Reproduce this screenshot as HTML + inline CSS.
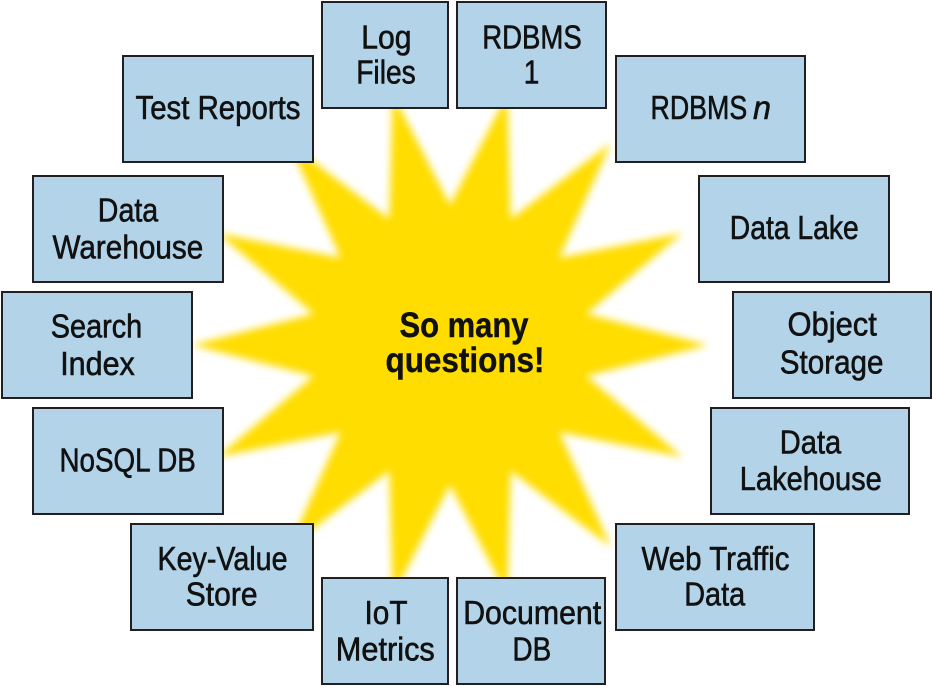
<!DOCTYPE html>
<html>
<head>
<meta charset="utf-8">
<style>
  html,body{margin:0;padding:0;background:#fff;}
  svg{display:block;}
  .t{font-family:"Liberation Sans",sans-serif;font-size:33px;fill:#111;stroke:#111;stroke-width:0.6;}
  .b{font-family:"Liberation Sans",sans-serif;font-size:35px;font-weight:bold;fill:#111;stroke:#111;stroke-width:0.4;}
  rect.box{fill:#b3d3e9;stroke:#231f20;stroke-width:2;}
</style>
</head>
<body>
<svg width="933" height="687" viewBox="0 0 933 687" xmlns="http://www.w3.org/2000/svg">
  <defs>
    <filter id="soft" filterUnits="userSpaceOnUse" x="0" y="0" width="933" height="687">
      <feGaussianBlur stdDeviation="4"/>
    </filter>
  </defs>
  <rect x="0" y="0" width="933" height="687" fill="#fff"/>
  <polygon id="star" fill="#ffdd00" filter="url(#soft)" points=""/>

  <!-- boxes -->
  <rect class="box" x="322" y="2" width="126" height="106"/>
  <rect class="box" x="457" y="2" width="149" height="106"/>
  <rect class="box" x="123" y="56" width="190" height="106"/>
  <rect class="box" x="616" y="56" width="189" height="106"/>
  <rect class="box" x="33" y="176" width="190" height="106"/>
  <rect class="box" x="699" y="176" width="190" height="106"/>
  <rect class="box" x="2" y="292" width="190" height="106"/>
  <rect class="box" x="733" y="292" width="198" height="106"/>
  <rect class="box" x="33" y="408" width="190" height="106"/>
  <rect class="box" x="711" y="408" width="198" height="106"/>
  <rect class="box" x="131" y="524" width="182" height="106"/>
  <rect class="box" x="616" y="524" width="198" height="106"/>
  <rect class="box" x="322" y="578" width="126" height="106"/>
  <rect class="box" x="457" y="578" width="148" height="106"/>

  <!-- labels -->
  <text class="t" x="361.2" y="48.3" textLength="50.3" lengthAdjust="spacingAndGlyphs">Log</text>
  <text class="t" x="356.2" y="83.3" textLength="59.6" lengthAdjust="spacingAndGlyphs">Files</text>

  <text class="t" x="482.2" y="48.3" textLength="99.6" lengthAdjust="spacingAndGlyphs">RDBMS</text>
  <text class="t" x="531.5" y="83.3" text-anchor="middle" transform="translate(531.5,0) scale(0.85,1) translate(-531.5,0)">1</text>

  <text class="t" x="135.5" y="119" textLength="165" lengthAdjust="spacingAndGlyphs">Test Reports</text>

  <text class="t" x="650.5" y="119" textLength="96.7" lengthAdjust="spacingAndGlyphs">RDBMS</text>
  <text class="t" x="753" y="119" font-style="italic" textLength="18" lengthAdjust="spacingAndGlyphs">n</text>

  <text class="t" x="97.8" y="221.7" textLength="60.4" lengthAdjust="spacingAndGlyphs">Data</text>
  <text class="t" x="52.5" y="258.3" textLength="150.7" lengthAdjust="spacingAndGlyphs">Warehouse</text>

  <text class="t" x="729.8" y="239" textLength="129" lengthAdjust="spacingAndGlyphs">Data Lake</text>

  <text class="t" x="50.8" y="337.7" textLength="91.4" lengthAdjust="spacingAndGlyphs">Search</text>
  <text class="t" x="60.2" y="375" textLength="74.6" lengthAdjust="spacingAndGlyphs">Index</text>

  <text class="t" x="787.5" y="335.5" textLength="89.3" lengthAdjust="spacingAndGlyphs">Object</text>
  <text class="t" x="779.8" y="373.3" textLength="103.7" lengthAdjust="spacingAndGlyphs">Storage</text>

  <text class="t" x="59.5" y="471.7" textLength="136.3" lengthAdjust="spacingAndGlyphs">NoSQL DB</text>

  <text class="t" x="779.8" y="453.3" textLength="61.4" lengthAdjust="spacingAndGlyphs">Data</text>
  <text class="t" x="739.8" y="490" textLength="142" lengthAdjust="spacingAndGlyphs">Lakehouse</text>

  <text class="t" x="157.5" y="570" textLength="130" lengthAdjust="spacingAndGlyphs">Key-Value</text>
  <text class="t" x="185.8" y="605.7" textLength="71.7" lengthAdjust="spacingAndGlyphs">Store</text>

  <text class="t" x="641.5" y="570" textLength="148" lengthAdjust="spacingAndGlyphs">Web Traffic</text>
  <text class="t" x="684.2" y="605.7" textLength="61" lengthAdjust="spacingAndGlyphs">Data</text>

  <text class="t" x="364.5" y="624" textLength="43" lengthAdjust="spacingAndGlyphs">IoT</text>
  <text class="t" x="335.8" y="660.7" textLength="99" lengthAdjust="spacingAndGlyphs">Metrics</text>

  <text class="t" x="463.2" y="624" textLength="138" lengthAdjust="spacingAndGlyphs">Document</text>
  <text class="t" x="512.5" y="660.7" textLength="38.7" lengthAdjust="spacingAndGlyphs">DB</text>

  <text class="b" x="399.5" y="337" textLength="129" lengthAdjust="spacingAndGlyphs">So many</text>
  <text class="b" x="385.5" y="372" textLength="159" lengthAdjust="spacingAndGlyphs">questions!</text>

  <script>
    (function(){
      var cx=450, cy=345, R=258, r=140, n=14, pts=[];
      for(var i=0;i<2*n;i++){
        var ang=Math.PI + i*Math.PI/n;
        var rad=(i%2===0)?R:r;
        pts.push((cx+rad*Math.cos(ang)).toFixed(2)+","+(cy+rad*Math.sin(ang)).toFixed(2));
      }
      document.getElementById("star").setAttribute("points",pts.join(" "));
    })();
  </script>
</svg>
</body>
</html>
